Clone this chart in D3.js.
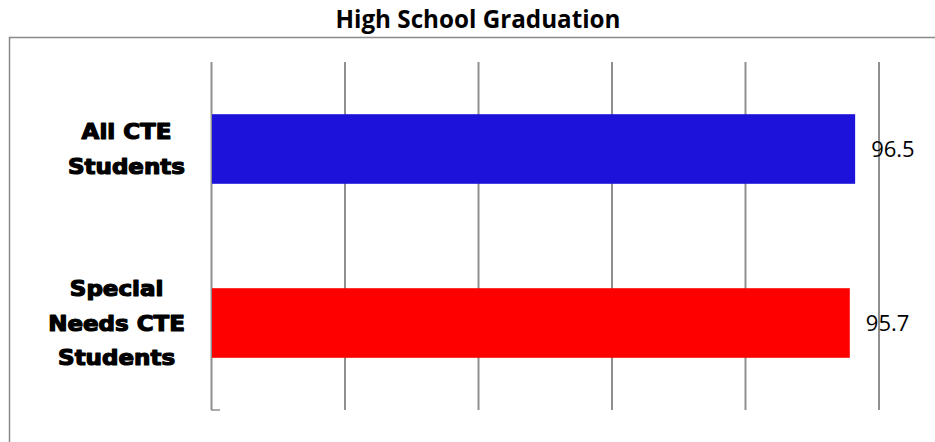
<!DOCTYPE html>
<html>
<head>
<meta charset="utf-8">
<script src="https://cdn.jsdelivr.net/npm/d3@7"></script>
<style>
  html, body { margin: 0; padding: 0; background: #fff; }
  svg { display: block; }
</style>
</head>
<body>
<svg id="chart" width="935" height="442"></svg>
<script>
// ---- data ----
const title = "High School Graduation";
const categories = ["All CTE Students", "Special Needs CTE Students"];
const labelLines = [["All CTE", "Students"], ["Special", "Needs CTE", "Students"]];
const values = [96.5, 95.7];
const barColors = ["#1C12DA", "#FF0000"];
const gridTicks = [0, 20, 40, 60, 80, 100];

// ---- layout ----
const W = 935, H = 442;
const plot = { left: 211, right: 878.5, top: 62, bottom: 410 };

const svg = d3.select("#chart");

// outer chart border (extends past the picture on right and bottom)
svg.append("rect")
  .attr("x", 9.5).attr("y", 37.5)
  .attr("width", W).attr("height", H)
  .attr("fill", "none")
  .attr("stroke", "#8a8a8a")
  .attr("stroke-width", 1.5);

// title
svg.append("text")
  .attr("x", 478).attr("y", 28)
  .attr("text-anchor", "middle")
  .attr("font-family", "'Open Sans', 'Noto Sans', sans-serif")
  .attr("font-weight", 700)
  .attr("font-size", 25)
  .attr("fill", "#000")
  .attr("textLength", 285).attr("lengthAdjust", "spacingAndGlyphs")
  .text(title);

const x = d3.scaleLinear().domain([0, 100]).range([plot.left, plot.right]);
const y = d3.scaleBand().domain(categories)
  .range([plot.top, plot.bottom])
  .paddingInner(0.6).paddingOuter(0.3);

// gridlines via axis
const grid = svg.append("g")
  .attr("transform", `translate(0,${plot.bottom})`)
  .call(d3.axisBottom(x).tickValues(gridTicks)
        .tickSize(-(plot.bottom - plot.top)).tickFormat(""));
grid.select(".domain").remove();
grid.selectAll(".tick line")
  .attr("stroke", "#8f8f8f")
  .attr("stroke-width", 2);

// little tick at the foot of the category axis
svg.append("line")
  .attr("x1", x(0)).attr("x2", x(0) + 9)
  .attr("y1", plot.bottom).attr("y2", plot.bottom)
  .attr("stroke", "#8f8f8f").attr("stroke-width", 1.5);

// bars
svg.selectAll("rect.bar")
  .data(categories)
  .join("rect")
  .attr("class", "bar")
  .attr("x", x(0) + 1)
  .attr("y", d => y(d))
  .attr("width", (d, i) => x(values[i]) - x(0) - 1)
  .attr("height", y.bandwidth())
  .attr("fill", (d, i) => barColors[i]);

// value labels
svg.selectAll("text.val")
  .data(categories)
  .join("text")
  .attr("class", "val")
  .attr("x", (d, i) => x(values[i]) + 16)
  .attr("y", d => y(d) + y.bandwidth() / 2 + 8)
  .attr("font-family", "'Open Sans', 'Noto Sans', sans-serif")
  .attr("font-size", 22)
  .attr("fill", "#000")
  .text((d, i) => values[i].toFixed(1));

// category labels (heavy, wide face)
const labFamily = "'DejaVu Sans', sans-serif";
const labFont = 21, lineGap = 34.5, labelRight = 185;
const stretchTargetWord = "Students", stretchTargetWidth = 117;
const probe = svg.append("text")
  .attr("font-family", labFamily)
  .attr("font-weight", 700).attr("font-size", labFont)
  .text(stretchTargetWord);
const stretch = stretchTargetWidth / probe.node().getComputedTextLength();
probe.remove();

categories.forEach((c, i) => {
  const lines = labelLines[i];
  const cy = y(c) + y.bandwidth() / 2;
  const g = svg.append("g");
  const texts = lines.map((ln, k) => g.append("text")
    .attr("font-family", labFamily)
    .attr("font-weight", 700)
    .attr("font-size", labFont)
    .attr("fill", "#000")
    .attr("stroke", "#000")
    .attr("stroke-width", 1.2)
    .attr("stroke-linejoin", "round")
    .attr("text-anchor", "middle")
    .attr("y", cy + (k - (lines.length - 1) / 2) * lineGap + labFont * 0.36)
    .text(ln));
  const widths = texts.map(t => t.node().getComputedTextLength() * stretch);
  const maxW = d3.max(widths);
  const cx = labelRight - maxW / 2;
  texts.forEach((t, k) => t.attr("x", cx)
    .attr("textLength", widths[k]).attr("lengthAdjust", "spacingAndGlyphs"));
});
</script>
</body>
</html>
